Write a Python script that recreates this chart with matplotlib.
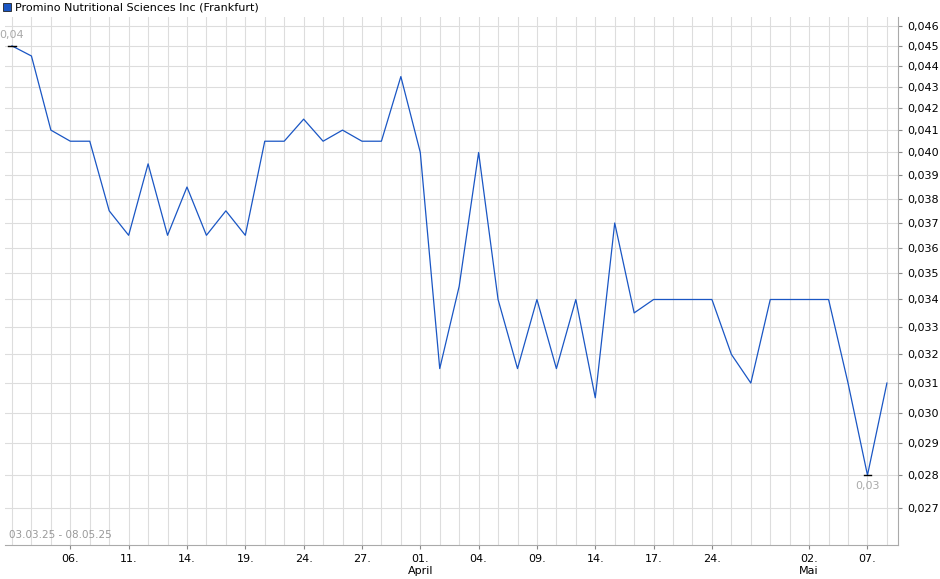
import matplotlib
matplotlib.use("Agg")
import matplotlib.pyplot as plt
from matplotlib.ticker import FixedLocator, NullLocator

values = [0.045, 0.0445, 0.041, 0.0405, 0.0405, 0.0375, 0.0365, 0.0395, 0.0365, 0.0385,
          0.0365, 0.0375, 0.0365, 0.0405, 0.0405, 0.0415, 0.0405, 0.041, 0.0405, 0.0405,
          0.0435, 0.040, 0.0315, 0.0345, 0.040, 0.034, 0.0315, 0.034, 0.0315, 0.034,
          0.0305, 0.037, 0.0335, 0.034, 0.034, 0.034, 0.034, 0.032, 0.031, 0.034,
          0.034, 0.034, 0.034, 0.031, 0.028, 0.031]
tick_idx = [3, 6, 9, 12, 15, 18, 21, 24, 27, 30, 33, 36, 41, 44]
tick_labels = ["06.", "11.", "14.", "19.", "24.", "27.", "01.\nApril", "04.", "09.", "14.",
               "17.", "24.", "02.\nMai", "07."]
y_ticks = [round(0.027 + 0.001 * i, 3) for i in range(20)]

fig = plt.figure(figsize=(9.4, 5.79), dpi=100)
ax = fig.add_axes([5/940, 1-545/579, 893/940, 528/579])
x = list(range(len(values)))
ax.plot(x, values, color="#1a56c4", lw=0.9, zorder=3)
ax.set_yscale("log")
ax.set_ylim(0.02592, 0.04646)
ax.set_xlim(-0.36, 45.57)
ax.yaxis.tick_right()
ax.yaxis.set_major_locator(FixedLocator(y_ticks))
ax.yaxis.set_minor_locator(NullLocator())
ax.set_yticklabels([f"{v:.3f}".replace(".", ",") for v in y_ticks], fontsize=8)
ax.set_xticks(tick_idx)
ax.set_xticklabels(tick_labels, fontsize=8)
ax.set_xticks(x, minor=True)
ax.tick_params(axis="x", which="minor", length=0)
ax.tick_params(length=3, color="#888888", labelsize=8)
ax.grid(True, which="both", axis="x", color="#dddddd", lw=0.8)
ax.grid(True, which="major", axis="y", color="#dddddd", lw=0.8)
for s in ax.spines.values():
    s.set_visible(False)
ax.spines["bottom"].set_visible(True); ax.spines["bottom"].set_color("#aaaaaa")
ax.spines["right"].set_visible(True); ax.spines["right"].set_color("#aaaaaa")

imax = values.index(max(values)); imin = values.index(min(values))
ax.plot([imax-0.2, imax+0.2], [values[imax]]*2, color="black", lw=1, zorder=4)
ax.plot([imin-0.2, imin+0.2], [values[imin]]*2, color="black", lw=1, zorder=4)
ax.annotate("0,04", (imax, values[imax]), xytext=(0, 4), textcoords="offset points",
            ha="center", va="bottom", fontsize=8, color="#aaaaaa")
ax.annotate("0,03", (imin, values[imin]), xytext=(0, -4), textcoords="offset points",
            ha="center", va="top", fontsize=8, color="#aaaaaa")
ax.text(0.004, 0.01, "03.03.25 - 08.05.25", transform=ax.transAxes, fontsize=7.5,
        color="#999999", ha="left", va="bottom")
fig.patches.append(plt.Rectangle((3/940, 1-11/579), 8/940, 8/579, transform=fig.transFigure,
                                 facecolor="#1a56c4", edgecolor="#222222", lw=0.6))
fig.text(15/940, 1-7/579, "Promino Nutritional Sciences Inc (Frankfurt)", fontsize=8,
         va="center", ha="left")
fig.savefig("out.png", dpi=100)
